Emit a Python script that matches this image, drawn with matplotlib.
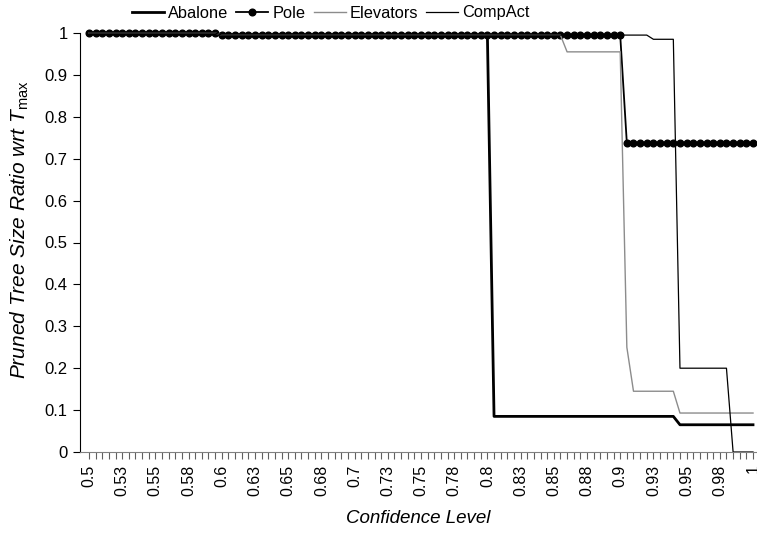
import matplotlib
matplotlib.use('Agg')
import matplotlib.pyplot as plt

plt.rcParams['font.family'] = ['Liberation Sans', 'DejaVu Sans']
plt.rcParams['mathtext.fontset'] = 'custom'
plt.rcParams['mathtext.rm'] = 'Liberation Sans'
plt.rcParams['mathtext.it'] = 'Liberation Sans:italic'

# confidence levels 0.5 .. 1.0 in steps of 0.005 (101 categories)
n_cat = 101
tick_labels = ['0.5', '0.53', '0.55', '0.58', '0.6', '0.63', '0.65', '0.68', '0.7', '0.73',
               '0.75', '0.78', '0.8', '0.83', '0.85', '0.88', '0.9', '0.93', '0.95', '0.98', '1']

# runs of (value, number of categories)
abalone_runs = [(1.0, 20), (0.995, 41), (0.085, 28), (0.065, 12)]
pole_runs = [(1.0, 20), (0.995, 61), (0.737, 20)]
elevators_runs = [(1.0, 20), (0.995, 52), (0.955, 9), (0.25, 1), (0.145, 7), (0.093, 12)]
compact_runs = [(1.0, 20), (0.995, 65), (0.985, 4), (0.2, 8), (0.0, 4)]


def expand(runs):
    vals = []
    for v, k in runs:
        vals += [v] * k
    return vals


abalone = expand(abalone_runs)
pole = expand(pole_runs)
elevators = expand(elevators_runs)
compact = expand(compact_runs)
x = list(range(n_cat))

fig = plt.figure(figsize=(7.57, 5.33), dpi=100)
ax = fig.add_axes([80 / 757, 81 / 533, 677 / 757, 419 / 533])

ax.plot(x, abalone, color='black', lw=2.0, label='Abalone', clip_on=False)
ax.plot(x, pole, color='black', lw=1.3, marker='o', markersize=4.8, label='Pole', clip_on=False)
ax.plot(x, elevators, color='#8c8c8c', lw=1.0, label='Elevators', clip_on=False)
ax.plot(x, compact, color='black', lw=0.9, label='CompAct', clip_on=False)

ax.set_xlim(-1.35, 100.6)
ax.set_ylim(0, 1)
ax.set_yticks([i / 10 for i in range(11)])
ax.set_yticklabels(['0', '0.1', '0.2', '0.3', '0.4', '0.5', '0.6', '0.7', '0.8', '0.9', '1'])
ax.set_xticks(list(range(0, n_cat, 5)))
ax.set_xticklabels(tick_labels, rotation=90)
ax.set_xticks(x, minor=True)

for s in ['top', 'right']:
    ax.spines[s].set_visible(False)
ax.spines['left'].set_color('black')
ax.spines['bottom'].set_color('#808080')
ax.tick_params(axis='y', length=5, width=0.8, labelsize=12, pad=4)
ax.tick_params(axis='x', which='both', length=5, width=0.8, color='#606060', labelsize=11.5, pad=4)

ax.set_xlabel('Confidence Level', fontsize=13.5, style='italic', labelpad=10)
ax.set_ylabel(r'Pruned Tree Size Ratio wrt $T_{\mathrm{max}}$', fontsize=15, style='italic')
ax.yaxis.set_label_coords(-0.072, 0.53)

fig.legend(loc='center', bbox_to_anchor=(0.437, 1 - 13 / 533), ncol=4, frameon=False, fontsize=11.8,
           handlelength=1.95, handletextpad=0.25, columnspacing=0.5)

fig.savefig('out.png', dpi=100)
